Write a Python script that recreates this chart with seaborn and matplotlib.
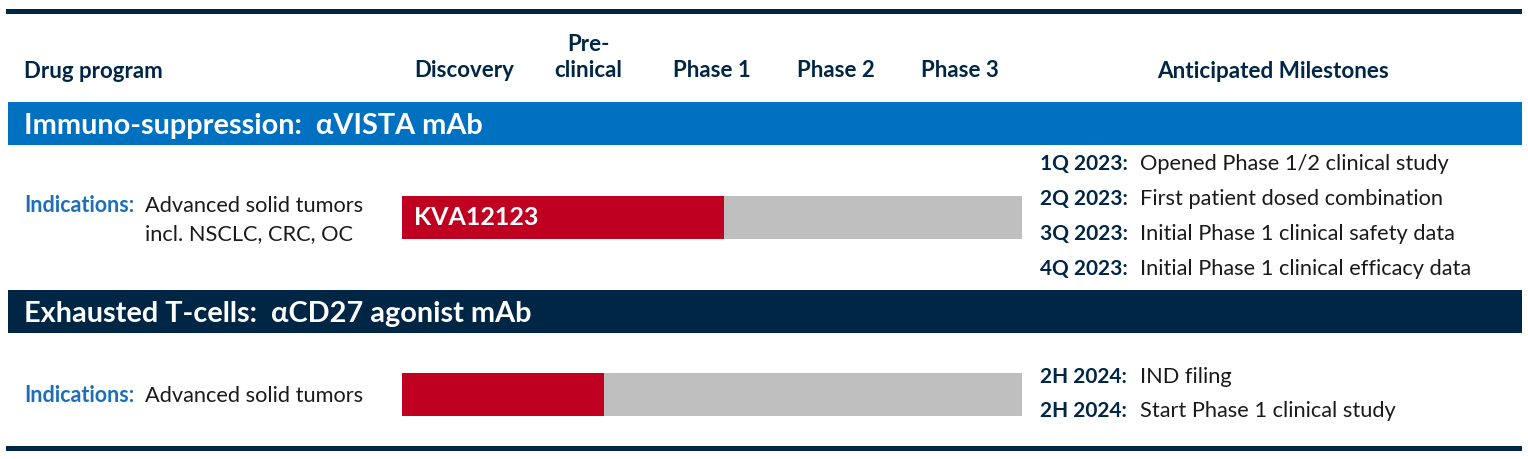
import matplotlib
matplotlib.use("Agg")
import matplotlib.pyplot as plt
import matplotlib.transforms as mtransforms
import seaborn as sns
import pandas as pd

# ---------------- data ----------------
phases = ["Discovery", "Pre-\nclinical", "Phase 1", "Phase 2", "Phase 3"]
programs = ["KVA12123", "αCD27 agonist mAb"]
bar_labels = ["KVA12123", ""]
progress = [2.6, 1.63]          # in phase units (0..5)
pipeline_end = [5.0, 5.0]
groups = ["Immuno-suppression:  αVISTA mAb", "Exhausted T-cells:  αCD27 agonist mAb"]
indications = ["Advanced solid tumors\nincl. NSCLC, CRC, OC", "Advanced solid tumors"]
milestone_dates = [["1Q 2023:", "2Q 2023:", "3Q 2023:", "4Q 2023:"],
                   ["2H 2024:", "2H 2024:"]]
milestone_texts = [["Opened Phase 1/2 clinical study",
                    "First patient dosed combination",
                    "Initial Phase 1 clinical safety data",
                    "Initial Phase 1 clinical efficacy data"],
                   ["IND filing", "Start Phase 1 clinical study"]]

# ---------------- style ----------------
sns.set_theme(style="white")
plt.rcParams["font.family"] = ["Lato", "DejaVu Sans"]

NAVY = "#002645"
BLUE = "#0070C0"
RED = "#C00020"
GRAY = "#BFBFBF"
IND_BLUE = "#1C6FB8"
TXT = "#1a1a1a"

W, H = 1528, 459
fig = plt.figure(figsize=(W / 100, H / 100), dpi=100)

# background axes in pixel coordinates
ax0 = fig.add_axes([0, 0, 1, 1])
ax0.set_xlim(0, W)
ax0.set_ylim(H, 0)
ax0.axis("off")

# rules and bands
ax0.fill_between([6, 1522], 9, 14, color=NAVY, lw=0)
ax0.fill_between([6, 1522], 446, 451, color=NAVY, lw=0)
band_tops = [102, 290]
band_colors = [BLUE, NAVY]
for top, col, title in zip(band_tops, band_colors, groups):
    ax0.fill_between([8, 1522], top, top + 43, color=col, lw=0)
    ax0.text(24, top + 24, title, color="white", fontsize=20.8, fontweight="bold",
             va="center", ha="left")

# header
ax0.text(24, 72, "Drug program", color=NAVY, fontsize=16, fontweight="bold",
         va="center", ha="left")
ax0.text(1273, 72, "Anticipated Milestones", color=NAVY, fontsize=16.2,
         fontweight="bold", va="center", ha="center")

# ---------------- bars (seaborn) ----------------
x0_px, x1_px = 402, 1022
bar_top, bar_bot = 196, 416
bar_h_px = 43
pitch = 177
hw = bar_h_px / pitch
ax = fig.add_axes([x0_px / W, 1 - bar_bot / H, (x1_px - x0_px) / W, (bar_bot - bar_top) / H])
df = pd.DataFrame({"program": programs, "end": pipeline_end, "progress": progress})
sns.barplot(data=df, x="end", y="program", orient="h", color=GRAY, width=hw,
            saturation=1, ax=ax)
sns.barplot(data=df, x="progress", y="program", orient="h", color=RED, width=hw,
            saturation=1, ax=ax)
for p in ax.patches:
    p.set_linewidth(0)
ax.set_xlim(0, 5)
ax.set_ylim(1 + hw / 2, -hw / 2)
ax.axis("off")
for i, lab in enumerate(bar_labels):
    if lab:
        ax.text(0.1, i, lab, color="white", fontsize=18, fontweight="bold",
                va="center", ha="left")

# phase headers placed on the bar axis x-scale
trans = mtransforms.blended_transform_factory(ax.transData, ax0.transData)
for i, ph in enumerate(phases):
    ax.text(i + 0.5, 81, ph, transform=trans, color=NAVY, fontsize=16,
            fontweight="bold", va="bottom", ha="center", linespacing=1.3,
            clip_on=False)

# indications
row_y = [206, 396]
for y, ind in zip(row_y, indications):
    ax0.text(24, y, "Indications:", color=IND_BLUE, fontsize=15.5, fontweight="bold",
             va="center", ha="left")
    lines = ind.split("\n")
    for k, ln in enumerate(lines):
        ax0.text(145, y + 28 * k, ln, color=TXT, fontsize=15.7, va="center", ha="left")

# milestones
ms_y0 = [164, 377]
ms_step = [35, 34]
for y0, st, dates, texts in zip(ms_y0, ms_step, milestone_dates, milestone_texts):
    for k, (d, t) in enumerate(zip(dates, texts)):
        ax0.text(1040, y0 + st * k, d, color=NAVY, fontsize=15, fontweight="bold",
                 va="center", ha="left")
        ax0.text(1140, y0 + st * k, t, color=TXT, fontsize=15.7, va="center", ha="left")

fig.savefig("out.png", dpi=100)
